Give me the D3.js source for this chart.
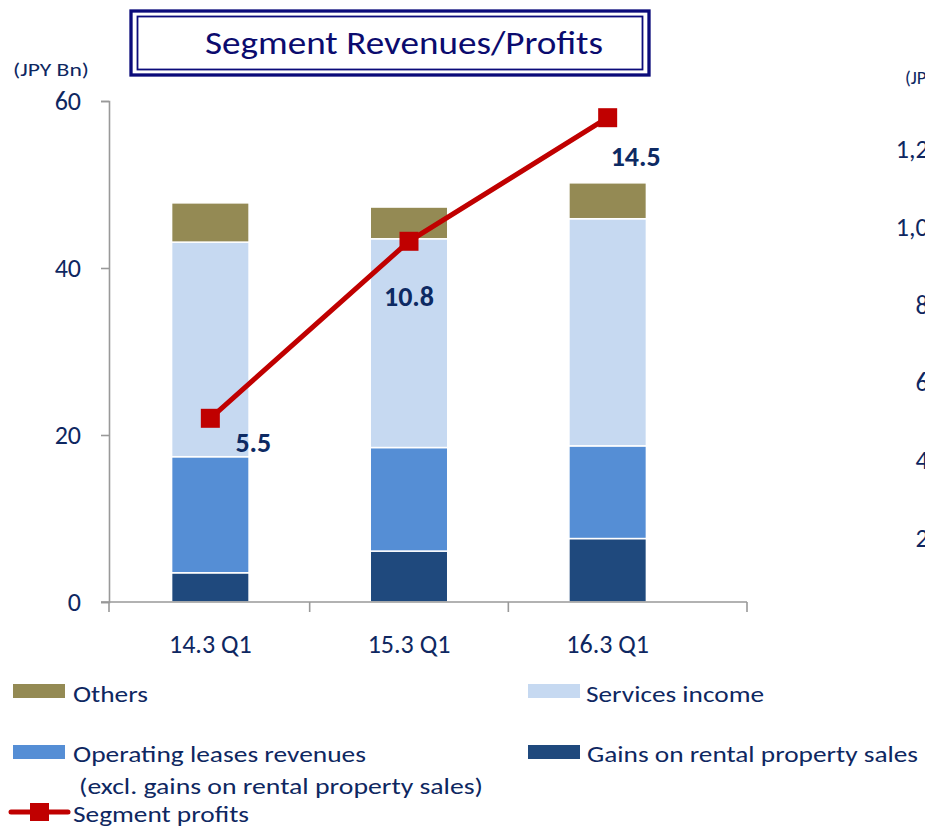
<!DOCTYPE html>
<html>
<head>
<meta charset="utf-8">
<script src="https://cdn.jsdelivr.net/npm/d3@7"></script>
<style>
  body { margin: 0; background: #fff; }
  svg { display: block; font-family: Carlito, Calibri, Lato, sans-serif; }
</style>
</head>
<body>
<div id="chart"></div>
<script>
// data (JPY Bn)
var categories = ["14.3 Q1", "15.3 Q1", "16.3 Q1"];
var gainsOnSales = [3.5, 6.1, 7.6];
var operatingLeases = [13.9, 12.4, 11.1];
var servicesIncome = [25.7, 25.0, 27.2];
var others = [4.7, 3.8, 4.3];
var segmentProfits = [5.5, 10.8, 14.5];
var leftTicks = [0, 20, 40, 60];
// tick labels of the neighbouring chart, cut by the right edge
var rightTicks = ["1,200", "1,000", "800", "600", "400", "200"];

var seriesNames = ["Gains on rental property sales", "Operating leases revenues", "Services income", "Others"];
var seriesColors = ["#1F497D", "#558ED5", "#C6D9F1", "#948A54"];
var navy = "#0E2761";
var red = "#C00000";

var width = 925, height = 827;

var svg = d3.select("#chart").append("svg")
  .attr("width", width)
  .attr("height", height);

var x = d3.scaleBand().domain(categories).range([111, 707]).paddingInner(0.61).paddingOuter(0.305);
var y = d3.scaleLinear().domain([0, 60]).range([602, 101]);
var yProfit = d3.scaleLinear().domain([0, 15]).range([602, 101]);
var axisEnd = 747;

// title box
var title = svg.append("g").attr("class", "title");
title.append("rect")
  .attr("x", 131).attr("y", 11).attr("width", 518).attr("height", 64)
  .attr("fill", "#fff").attr("stroke", "#0B0B7A").attr("stroke-width", 3.3);
title.append("rect")
  .attr("x", 137.5).attr("y", 16.5).attr("width", 505).attr("height", 53)
  .attr("fill", "none").attr("stroke", "#0B0B7A").attr("stroke-width", 1.8);
title.append("text")
  .attr("x", 205).attr("y", 54)
  .attr("font-size", 32)
  .attr("fill", "#0B0B6E")
  .attr("textLength", 398).attr("lengthAdjust", "spacingAndGlyphs")
  .text("Segment Revenues/Profits");

// unit label
svg.append("text")
  .attr("x", 13).attr("y", 76)
  .attr("font-size", 19).attr("fill", navy)
  .attr("textLength", 76).attr("lengthAdjust", "spacingAndGlyphs")
  .text("(JPY Bn)");

// stacked bars
var rows = categories.map(function(c, i) {
  return { cat: c, s0: gainsOnSales[i], s1: operatingLeases[i], s2: servicesIncome[i], s3: others[i] };
});
var stack = d3.stack().keys(["s0", "s1", "s2", "s3"]);
var layers = stack(rows);

svg.selectAll(".layer")
  .data(layers)
  .enter().append("g")
  .attr("class", "layer")
  .attr("fill", function(d, i) { return seriesColors[i]; })
  .selectAll("rect")
  .data(function(d) { return d; })
  .enter().append("rect")
  .attr("x", function(d) { return x(d.data.cat); })
  .attr("y", function(d) { return y(d[1]); })
  .attr("width", x.bandwidth())
  .attr("height", function(d) { return y(d[0]) - y(d[1]); })
  .attr("stroke", "#fff")
  .attr("stroke-width", 1.5);

// left axis
var yAxis = svg.append("g")
  .attr("class", "axis axis--y")
  .attr("transform", "translate(109,0)")
  .call(d3.axisLeft(y).tickValues(leftTicks).tickSize(8).tickSizeOuter(8).tickPadding(20));
yAxis.attr("font-family", null).attr("font-size", null);
yAxis.select(".domain").attr("stroke", "#999").attr("stroke-width", 1.6);
yAxis.selectAll(".tick line").attr("stroke", "#999").attr("stroke-width", 1.6);
yAxis.selectAll(".tick text")
  .attr("font-size", 26).attr("fill", navy);

// bottom axis
var xAxis = svg.append("g").attr("class", "axis axis--x");
xAxis.append("line")
  .attr("x1", 101).attr("x2", axisEnd).attr("y1", y(0)).attr("y2", y(0))
  .attr("stroke", "#999").attr("stroke-width", 1.6);
var bounds = [109].concat(categories.slice(1).map(function(c) { return x(c) - x.step() * x.paddingInner() / 2; })).concat([axisEnd]);
xAxis.selectAll(".xtick")
  .data(bounds)
  .enter().append("line")
  .attr("class", "xtick")
  .attr("x1", function(d) { return d; }).attr("x2", function(d) { return d; })
  .attr("y1", y(0)).attr("y2", y(0) + 10)
  .attr("stroke", "#999").attr("stroke-width", 1.6);
xAxis.selectAll(".xlabel")
  .data(categories)
  .enter().append("text")
  .attr("class", "xlabel")
  .attr("x", function(d) { return x(d) + x.bandwidth() / 2; })
  .attr("y", 653)
  .attr("text-anchor", "middle")
  .attr("font-size", 26).attr("fill", navy)
  .text(function(d) { return d; });

// segment profits line
var cx = function(d, i) { return x(categories[i]) + x.bandwidth() / 2; };
var line = d3.line()
  .x(cx)
  .y(function(d) { return yProfit(d); });

svg.append("path")
  .datum(segmentProfits)
  .attr("fill", "none")
  .attr("stroke", red)
  .attr("stroke-width", 5)
  .attr("d", line);

svg.selectAll(".marker")
  .data(segmentProfits)
  .enter().append("rect")
  .attr("class", "marker")
  .attr("x", function(d, i) { return cx(d, i) - 9.5; })
  .attr("y", function(d) { return yProfit(d) - 9.5; })
  .attr("width", 19).attr("height", 19)
  .attr("fill", red);

var labelOffsets = [[43, 34], [0, 65], [28, 48]];
svg.selectAll(".plabel")
  .data(segmentProfits)
  .enter().append("text")
  .attr("class", "plabel")
  .attr("x", function(d, i) { return cx(d, i) + labelOffsets[i][0]; })
  .attr("y", function(d, i) { return yProfit(d) + labelOffsets[i][1]; })
  .attr("text-anchor", "middle")
  .attr("font-size", 28).attr("font-weight", "bold").attr("fill", "#0D2A63")
  .text(function(d) { return d.toFixed(1); });

// legend
var legend = svg.append("g").attr("class", "legend");
var legendItems = [
  { name: "Others", color: seriesColors[3], sx: 13, sy: 684, tx: 73, ty: 702, w: 75 },
  { name: "Services income", color: seriesColors[2], sx: 528, sy: 684, tx: 586, ty: 702, w: 178 },
  { name: "Operating leases revenues", color: seriesColors[1], sx: 13, sy: 745, tx: 73, ty: 762, w: 293 },
  { name: "Gains on rental property sales", color: seriesColors[0], sx: 528, sy: 745, tx: 587, ty: 762, w: 331 }
];
legendItems.forEach(function(d) {
  legend.append("rect")
    .attr("x", d.sx).attr("y", d.sy).attr("width", 52).attr("height", 14)
    .attr("fill", d.color);
  legend.append("text")
    .attr("x", d.tx).attr("y", d.ty)
    .attr("font-size", 23).attr("fill", navy)
    .attr("textLength", d.w).attr("lengthAdjust", "spacingAndGlyphs")
    .text(d.name);
});
legend.append("text")
  .attr("x", 79).attr("y", 794)
  .attr("font-size", 23).attr("fill", navy)
  .attr("textLength", 404).attr("lengthAdjust", "spacingAndGlyphs")
  .text("(excl. gains on rental property sales)");
legend.append("line")
  .attr("x1", 11).attr("x2", 68).attr("y1", 812).attr("y2", 812)
  .attr("stroke", red).attr("stroke-width", 5).attr("stroke-linecap", "round");
legend.append("rect")
  .attr("x", 30).attr("y", 803).attr("width", 19).attr("height", 18)
  .attr("fill", red);
legend.append("text")
  .attr("x", 73).attr("y", 822)
  .attr("font-size", 23).attr("fill", navy)
  .attr("textLength", 176).attr("lengthAdjust", "spacingAndGlyphs")
  .text("Segment profits");

// neighbouring chart's axis, cut off at the right edge
var rightY = d3.scaleLinear().domain([0, rightTicks.length - 1]).range([158, 547]);
svg.append("text")
  .attr("x", 905).attr("y", 84)
  .attr("font-size", 19).attr("fill", navy)
  .text("(JPY Bn)");
svg.selectAll(".rtick")
  .data(rightTicks)
  .enter().append("text")
  .attr("class", "rtick")
  .attr("x", 955)
  .attr("y", function(d, i) { return rightY(i); })
  .attr("text-anchor", "end")
  .attr("font-size", 26).attr("fill", navy)
  .text(function(d) { return d; });
</script>
</body>
</html>
